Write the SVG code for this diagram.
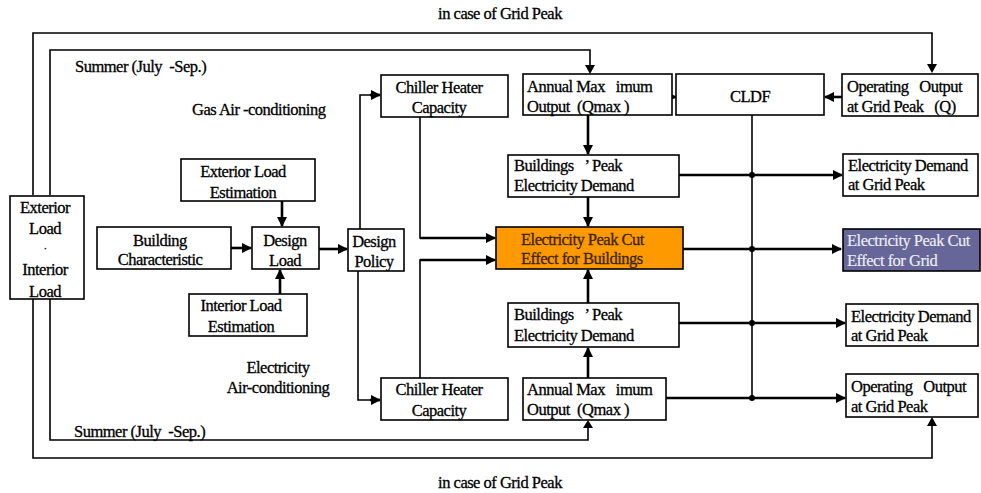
<svg xmlns="http://www.w3.org/2000/svg" width="981" height="493" viewBox="0 0 981 493" xml:space="preserve">
<defs>
<marker id="ah" viewBox="0 0 10 10" refX="9" refY="5" markerWidth="4" markerHeight="4" orient="auto-start-reverse" markerUnits="strokeWidth">
<path d="M0,0 L10,5 L0,10 z" fill="#000"/>
</marker>
<style>
.box{fill:#fff;stroke:#000;stroke-width:1.6}
.t{font-family:"Liberation Serif","Times New Roman",serif;font-size:16.5px;letter-spacing:-0.5px;fill:#000;stroke:#000;stroke-width:0.3px;white-space:pre}
.c{text-anchor:middle}
.ln{fill:none;stroke:#000;stroke-width:1.6}
.ar{fill:none;stroke:#000;stroke-width:2.6;marker-end:url(#ah)}
.dot{fill:#000}
.or{fill:#3a2500;stroke:#3a2500}
.pu{fill:#eeeef4;stroke:#eeeef4;stroke-width:0.15px}
</style>
</defs>
<rect width="981" height="493" fill="#fff"/>

<g id="connectors">
<polyline class="ln" points="33,195 33,33 932,33 932,66"/>
<path d="M927,64 L937,64 L932,73 z" fill="#000"/>
<polyline class="ln" points="33,299 33,458 932,458 932,425"/>
<path d="M927,426 L937,426 L932,417 z" fill="#000"/>
<polyline class="ln" points="50,195 50,50 590,50 590,66"/>
<path d="M585,65 L595,65 L590,74 z" fill="#000"/>
<polyline class="ln" points="50,299 50,440 588,440 588,428"/>
<path d="M583,428 L593,428 L588,420 z" fill="#000"/>
<line class="ar" x1="282" y1="201" x2="282" y2="226"/>
<line class="ar" x1="280" y1="294" x2="280" y2="270"/>
<line class="ar" x1="231" y1="248" x2="251" y2="248"/>
<line class="ar" x1="319" y1="249" x2="347" y2="249"/>
<polyline class="ln" points="360,229 360,95 372,95"/>
<line class="ar" x1="370" y1="95" x2="380" y2="95"/>
<polyline class="ln" points="358,271 358,400 372,400"/>
<line class="ar" x1="370" y1="400" x2="380" y2="400"/>
<polyline class="ln" points="420,117 420,238 485,238"/>
<line class="ar" x1="420" y1="238" x2="495" y2="238"/>
<polyline class="ln" points="420,378 420,260 485,260"/>
<line class="ar" x1="420" y1="260" x2="495" y2="260"/>
<line class="ar" x1="588" y1="115" x2="588" y2="154"/>
<line class="ar" x1="588" y1="197" x2="588" y2="226"/>
<line class="ar" x1="588" y1="378" x2="588" y2="348"/>
<line class="ar" x1="588" y1="303" x2="588" y2="270"/>
<line class="ar" x1="668" y1="97" x2="676" y2="97"/>
<line class="ar" x1="842" y1="97" x2="825" y2="97"/>
<line class="ln" x1="752" y1="115" x2="752" y2="398"/>
<line class="ar" x1="679" y1="175" x2="842" y2="175"/>
<line class="ar" x1="683" y1="249" x2="841" y2="249"/>
<line class="ar" x1="679" y1="323" x2="845" y2="323"/>
<line class="ar" x1="666" y1="398" x2="845" y2="398"/>
<circle class="dot" cx="752" cy="175" r="3"/>
<circle class="dot" cx="752" cy="249" r="3"/>
<circle class="dot" cx="752" cy="323" r="3"/>
<circle class="dot" cx="752" cy="398" r="3"/>
</g>

<g id="labels">
<text class="t c" x="500" y="19">in case of Grid Peak</text>
<text class="t c" x="500" y="488">in case of Grid Peak</text>
<text class="t" x="75" y="72">Summer (July  -Sep.)</text>
<text class="t" x="74" y="437">Summer (July  -Sep.)</text>
<text class="t" x="192" y="115">Gas Air -conditioning</text>
<text class="t c" x="278" y="373">Electricity</text>
<text class="t c" x="278" y="393">Air-conditioning</text>
</g>

<g id="exterior-interior-load">
<rect class="box" x="10" y="196" width="74" height="103"/>
<text class="t c" x="45" y="213">Exterior</text>
<text class="t c" x="45" y="234">Load</text>
<text class="t c" x="45" y="252" style="font-size:11px">·</text>
<text class="t c" x="45" y="275">Interior</text>
<text class="t c" x="45" y="297">Load</text>
</g>

<g id="building-characteristic">
<rect class="box" x="97" y="227" width="134" height="42"/>
<text class="t c" x="160" y="246">Building</text>
<text class="t c" x="160" y="265">Characteristic</text>
</g>

<g id="exterior-load-estimation">
<rect class="box" x="181" y="159" width="134" height="42"/>
<text class="t c" x="243" y="177">Exterior Load</text>
<text class="t c" x="243" y="198">Estimation</text>
</g>

<g id="interior-load-estimation">
<rect class="box" x="189" y="294" width="118" height="42"/>
<text class="t c" x="241" y="311">Interior Load</text>
<text class="t c" x="241" y="332">Estimation</text>
</g>

<g id="design-load">
<rect class="box" x="252" y="227" width="67" height="42"/>
<text class="t c" x="285" y="246">Design</text>
<text class="t c" x="285" y="266">Load</text>
</g>

<g id="design-policy">
<rect class="box" x="348" y="229" width="56" height="42"/>
<text class="t c" x="374" y="247">Design</text>
<text class="t c" x="374" y="267">Policy</text>
</g>

<g id="chiller-gas">
<rect class="box" x="381" y="75" width="127" height="42"/>
<text class="t c" x="439" y="93">Chiller Heater</text>
<text class="t c" x="439" y="113">Capacity</text>
</g>

<g id="chiller-elec">
<rect class="box" x="381" y="378" width="127" height="42"/>
<text class="t c" x="439" y="395">Chiller Heater</text>
<text class="t c" x="439" y="416">Capacity</text>
</g>

<g id="annual-max-gas">
<rect class="box" x="523" y="74" width="149" height="41"/>
<text class="t" x="527" y="92">Annual Max   imum</text>
<text class="t" x="527" y="112">Output  (Qmax )</text>
</g>

<g id="annual-max-elec">
<rect class="box" x="523" y="378" width="143" height="42"/>
<text class="t" x="527" y="395">Annual Max   imum</text>
<text class="t" x="527" y="415">Output  (Qmax )</text>
</g>

<g id="cldf">
<rect class="box" x="676" y="74" width="148" height="41"/>
<text class="t c" x="750" y="102">CLDF</text>
</g>

<g id="operating-output-q">
<rect class="box" x="842" y="74" width="136" height="42"/>
<text class="t" x="847" y="92">Operating   Output</text>
<text class="t" x="847" y="112">at Grid Peak   (Q)</text>
</g>

<g id="buildings-peak-gas">
<rect class="box" x="508" y="155" width="171" height="42"/>
<text class="t" x="514" y="171">Buildings   ’ Peak</text>
<text class="t" x="514" y="191">Electricity Demand</text>
</g>

<g id="buildings-peak-elec">
<rect class="box" x="508" y="303" width="171" height="44"/>
<text class="t" x="514" y="320">Buildings   ’ Peak</text>
<text class="t" x="514" y="341">Electricity Demand</text>
</g>

<g id="peak-cut-buildings">
<rect x="496" y="227" width="187" height="42" fill="#FF9900" stroke="#000" stroke-width="1.6"/>
<text class="t or" x="521" y="245">Electricity Peak Cut</text>
<text class="t or" x="521" y="264">Effect for Buildings</text>
</g>

<g id="demand-grid-gas">
<rect class="box" x="843" y="154" width="135" height="42"/>
<text class="t" x="848" y="171">Electricity Demand</text>
<text class="t" x="848" y="190">at Grid Peak</text>
</g>

<g id="peak-cut-grid">
<rect x="843" y="229" width="137" height="42" fill="#666699" stroke="#000" stroke-width="1.6"/>
<text class="t pu" x="847" y="246">Electricity Peak Cut</text>
<text class="t pu" x="847" y="266">Effect for Grid</text>
</g>

<g id="demand-grid-elec">
<rect class="box" x="846" y="304" width="132" height="42"/>
<text class="t" x="851" y="322">Electricity Demand</text>
<text class="t" x="851" y="341">at Grid Peak</text>
</g>

<g id="operating-output">
<rect class="box" x="846" y="374" width="132" height="43"/>
<text class="t" x="851" y="392">Operating   Output</text>
<text class="t" x="851" y="412">at Grid Peak</text>
</g>
</svg>
